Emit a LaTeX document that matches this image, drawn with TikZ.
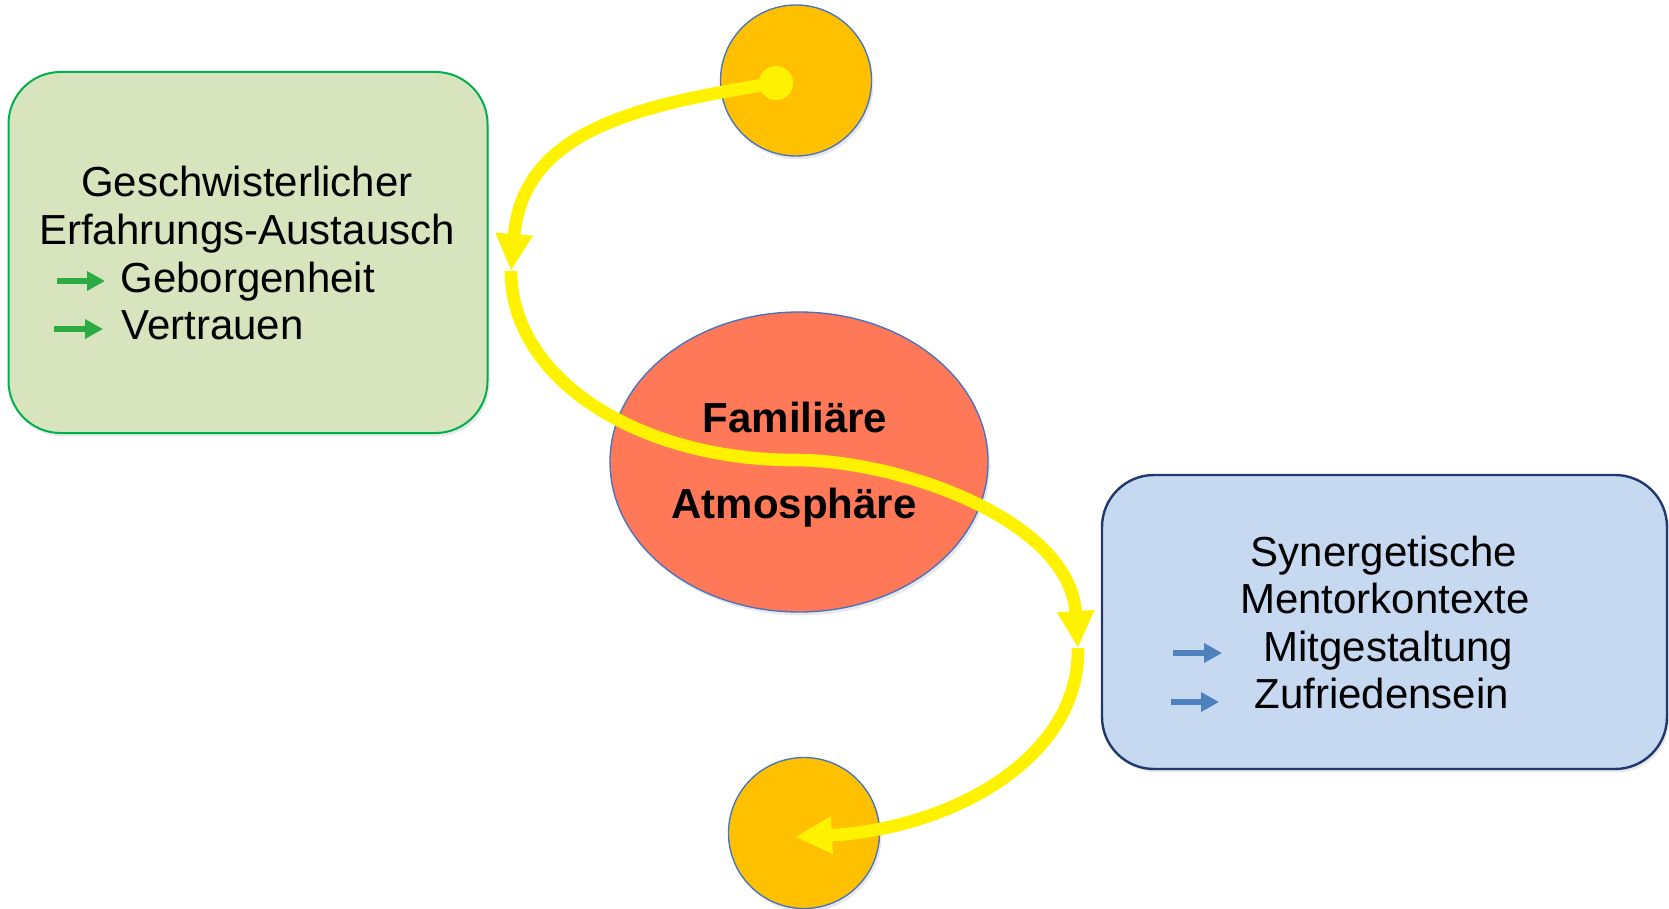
\documentclass[tikz,border=0pt]{standalone}
\usepackage{fontspec}
\setmainfont{Liberation Sans}
\usetikzlibrary{arrows.meta,shapes.geometric,shadows}

\definecolor{boxgreen}{RGB}{215,228,189}
\definecolor{edgegreen}{RGB}{0,176,80}
\definecolor{boxblue}{RGB}{198,217,241}
\definecolor{edgenavy}{RGB}{31,56,110}
\definecolor{sunorange}{RGB}{255,192,0}
\definecolor{edgeblue}{RGB}{68,114,196}
\definecolor{coral}{RGB}{255,120,87}
\definecolor{arrowgreen}{RGB}{44,170,68}
\definecolor{arrowblue}{RGB}{79,129,189}

\tikzset{every picture/.style={line width=0.75pt}}
\tikzset{
  softshadow/.style={drop shadow={opacity=0.18, shadow xshift=1.5pt, shadow yshift=-2.5pt}},
  greenbox/.style={rectangle, rounded corners=39pt, fill=boxgreen, draw=edgegreen, line width=1.5pt,
    minimum width=359.25pt, minimum height=270.75pt, inner sep=0pt, outer sep=0pt, softshadow},
  bluebox/.style={rectangle, rounded corners=39pt, fill=boxblue, draw=edgenavy, line width=1.8pt,
    minimum width=423.75pt, minimum height=220.5pt, inner sep=0pt, outer sep=0pt, softshadow},
  atmo/.style={ellipse, fill=coral, draw=edgeblue, line width=1pt,
    minimum width=283.5pt, minimum height=225pt, inner sep=0pt, outer sep=0pt, softshadow},
  sun/.style={circle, fill=sunorange, draw=edgeblue, line width=1pt,
    minimum size=113.25pt, inner sep=0pt, outer sep=0pt, softshadow},
  dot/.style={circle, fill=yellow, minimum size=25.5pt, inner sep=0pt},
  textline/.style={font=\fontsize{31.5}{36}\selectfont, inner sep=0pt, anchor=base},
  boldline/.style={textline, font=\fontsize{31.5}{36}\selectfont\bfseries},
  greenarrow/.style={draw=arrowgreen, line width=4.5pt, -{Triangle[length=13.5pt,width=14pt]}},
  bluearrow/.style={draw=arrowblue, line width=4.5pt, -{Triangle[length=13.5pt,width=14pt]}},
  yellowline/.style={draw=yellow, line width=9.5pt},
  yellowarrow/.style={yellowline, -{Triangle[length=27.75pt,width=26.25pt]}}
}

\begin{document}
\begin{tikzpicture}[x=0.75pt,y=0.75pt,yscale=-1,xscale=1]
\useasboundingbox (0,0) rectangle (1669,909);

%Rounded Rect
\node [greenbox] (exchange) at (248,252.5) {};
%Rounded Rect
\node [bluebox] (mentor) at (1384.5,622) {};
%Shape: Ellipse
\node [atmo] (atmo) at (799,462) {};
%Shape: Circle
\node [sun] (top) at (796,80.5) {};
%Shape: Circle
\node [sun] (bottom) at (804,833) {};

% Text Node
\node [textline] (exchange1) at (247,197) {Geschwisterlicher};
% Text Node
\node [textline] (exchange2) at (247,245) {Erfahrungs-Austausch};
% Text Node
\node [textline, anchor=base west] (exchange3) at (120,292) {Geborgenheit};
% Text Node
\node [textline, anchor=base west] (exchange4) at (121,339) {Vertrauen};

% Text Node
\node [textline] (mentor1) at (1384,566) {Synergetische};
% Text Node
\node [textline] (mentor2) at (1385,613) {Mentorkontexte};
% Text Node
\node [textline, anchor=base west] (mentor3) at (1263,661) {Mitgestaltung};
% Text Node
\node [textline, anchor=base west] (mentor4) at (1254,708) {Zufriedensein};

% Text Node
\node [boldline] (atmo1) at (795,432) {Familiäre};
% Text Node
\node [boldline] (atmo2) at (794,518) {Atmosphäre};

%Straight Lines
\draw [greenarrow] ([shift={(-63,-11)}]exchange3.base west) -- ++(48,0);
\draw [greenarrow] ([shift={(-67,-10)}]exchange4.base west) -- ++(49,0);
\draw [bluearrow] ([shift={(-90,-8)}]mentor3.base west) -- ++(49,0);
\draw [bluearrow] ([shift={(-83,-6)}]mentor4.base west) -- ++(48,0);

%Curve Lines
\coordinate (tip1) at (511,271);
\coordinate (mid) at (795,460);
\coordinate (tip2) at (1078,648);
\coordinate (tip3) at (795,837);
\node [dot] (start) at (776,83) {};
\draw [yellowarrow] (start.center) .. controls +(-140,22) and +(12,-140) .. (tip1);
\draw [yellowline] (tip1) .. controls +(0,109) and +(-155,0) .. (mid);
\draw [yellowarrow] (mid) .. controls +(105,0) and +(-8,-128) .. (tip2);
\draw [yellowarrow] (tip2) .. controls +(2,111) and +(155,-8) .. (tip3);
\node [dot] at (start) {};

\end{tikzpicture}
\end{document}
